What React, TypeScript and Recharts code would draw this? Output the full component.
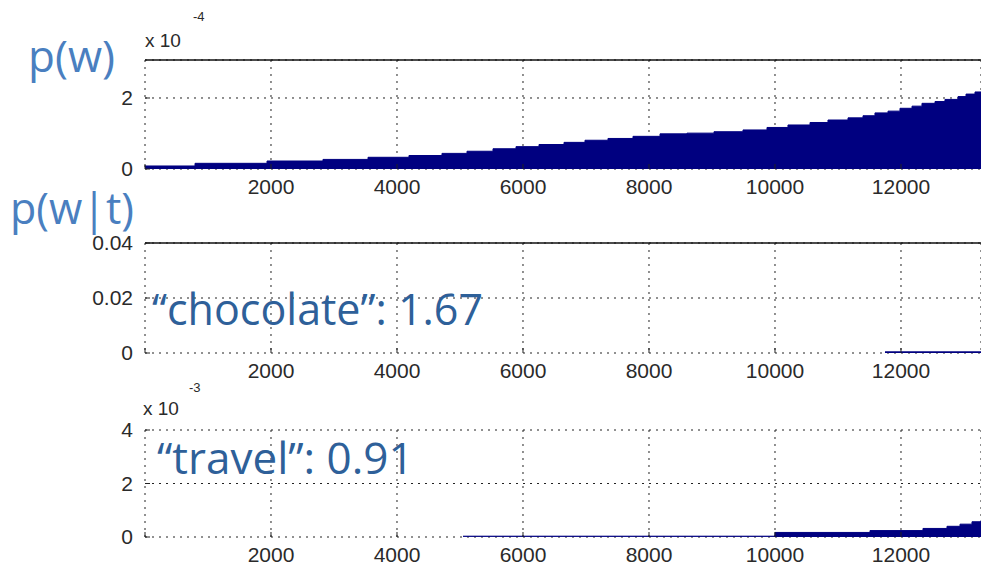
import React from 'react'
import { AreaChart, Area, XAxis, YAxis, CartesianGrid, ReferenceLine } from 'recharts'

// shared x axis (word rank)
const X_MAX = 13270
const X_TICKS = [0, 2000, 4000, 6000, 8000, 10000, 12000]

// p(w), values in units of 1e-4 (step starts)
const pwX = [0, 794, 1937, 2825, 3540, 4190, 4714, 5111, 5524, 5889, 6254, 6651, 6984, 7349, 7746, 8175, 8603, 9032, 9492, 9873, 10206, 10556, 10841, 11159, 11397, 11587, 11794, 11984, 12175, 12333, 12540, 12698, 12905, 13032, 13175, 13270]
const pwY = [0.085, 0.16, 0.225, 0.27, 0.33, 0.38, 0.44, 0.5, 0.57, 0.63, 0.69, 0.75, 0.81, 0.86, 0.92, 0.99, 1.01, 1.05, 1.1, 1.17, 1.24, 1.31, 1.38, 1.44, 1.5, 1.58, 1.63, 1.71, 1.77, 1.85, 1.9, 1.96, 2.04, 2.11, 2.17, 2.17]
const pwTicks = [0, 2]

// p(w|t) for "chocolate"
const chocX = [11746, 13270]
const chocY = [0.0003, 0.0003]
const chocTicks = [0, 0.02, 0.04]

// p(w|t) for "travel", values in units of 1e-3
const travelX = [5048, 10000, 11508, 12349, 12730, 12937, 13127, 13270]
const travelY = [0.03, 0.17, 0.24, 0.32, 0.4, 0.48, 0.57, 0.62]
const travelTicks = [0, 2, 4]

const NAVY = '#000080'
const AXIS_FONT = { fontSize: 21, fill: '#2a2a2a', fontFamily: 'Liberation Sans' }
const GRID_DASH = '2 5'

const toRows = (xs: number[], ys: number[]) => xs.map((x, i) => ({ x, v: ys[i] }))

interface PanelProps {
  top: number
  height: number
  marginTop: number
  xAxisHeight: number
  rows: { x: number; v: number }[]
  yDomain: [number, number]
  yTicks: number[]
  solidTop: boolean
  strokeWidth?: number
}

function Panel({ top, height, marginTop, xAxisHeight, rows, yDomain, yTicks, solidTop, strokeWidth = 1 }: PanelProps) {
  return (
    <div style={{ position: 'absolute', left: 0, top }}>
      <AreaChart width={981} height={height} data={rows} margin={{ top: marginTop, right: 0, bottom: 0, left: 85 }}>
        <CartesianGrid stroke="#222" strokeDasharray={GRID_DASH} />
        <XAxis
          dataKey="x"
          type="number"
          domain={[0, X_MAX]}
          ticks={X_TICKS}
          allowDataOverflow
          height={xAxisHeight}
          axisLine={false}
          tickSize={-5}
          tickMargin={15}
          tickLine={{ stroke: '#222' }}
          tick={AXIS_FONT}
          tickFormatter={(v: number) => (v === 0 ? '' : String(v))}
        />
        <YAxis
          type="number"
          domain={yDomain}
          ticks={yTicks}
          allowDataOverflow
          width={60}
          axisLine={false}
          tickSize={-5}
          tickMargin={17}
          tickLine={{ stroke: '#222' }}
          tick={AXIS_FONT}
        />
        <Area
          type="stepAfter"
          dataKey="v"
          stroke={NAVY}
          strokeWidth={strokeWidth}
          fill={NAVY}
          fillOpacity={1}
          dot={false}
          activeDot={false}
          isAnimationActive={false}
        />
        {solidTop && <ReferenceLine y={yDomain[1]} stroke="#111" strokeWidth={1.5} ifOverflow="extendDomain" />}
      </AreaChart>
    </div>
  )
}

export default function App() {
  const labelBlue = '#4a7fc0'
  const noteBlue = '#2e6099'
  return (
    <div style={{ position: 'absolute', left: 0, top: 0, width: 981, height: 566, background: '#fff', overflow: 'hidden' }}>
      <Panel top={0} height={200} marginTop={60} xAxisHeight={31} rows={toRows(pwX, pwY)} yDomain={[0, 3.07]} yTicks={pwTicks} solidTop />
      <Panel top={200} height={185} marginTop={43} xAxisHeight={32} rows={toRows(chocX, chocY)} yDomain={[0, 0.04]} yTicks={chocTicks} solidTop strokeWidth={2} />
      <Panel top={385} height={181} marginTop={45} xAxisHeight={29} rows={toRows(travelX, travelY)} yDomain={[0, 4]} yTicks={travelTicks} solidTop={false} />

      <svg width={981} height={566} style={{ position: 'absolute', left: 0, top: 0, pointerEvents: 'none' }}>
        {/* exponent labels */}
        <text x={145} y={47} fontSize={19} fontFamily="Liberation Sans" fill="#2a2a2a">x 10</text>
        <text x={193} y={21} fontSize={13} fontFamily="Liberation Sans" fill="#2a2a2a">-4</text>
        <text x={143} y={415} fontSize={19} fontFamily="Liberation Sans" fill="#2a2a2a">x 10</text>
        <text x={189} y={392} fontSize={13} fontFamily="Liberation Sans" fill="#2a2a2a">-3</text>

        {/* annotations */}
        <text x={28} y={72} fontSize={44} fontFamily="Open Sans" fill={labelBlue}>p(w)</text>
        <text x={10} y={224} fontSize={43} fontFamily="Open Sans" fill={labelBlue}>p(w|t)</text>
        <text x={152} y={325} fontSize={43} fontFamily="Open Sans" fill={noteBlue}>“chocolate”: 1.67</text>
        <text x={157} y={474} fontSize={44} fontFamily="Open Sans" fill={noteBlue}>“travel”: 0.91</text>
      </svg>
    </div>
  )
}
